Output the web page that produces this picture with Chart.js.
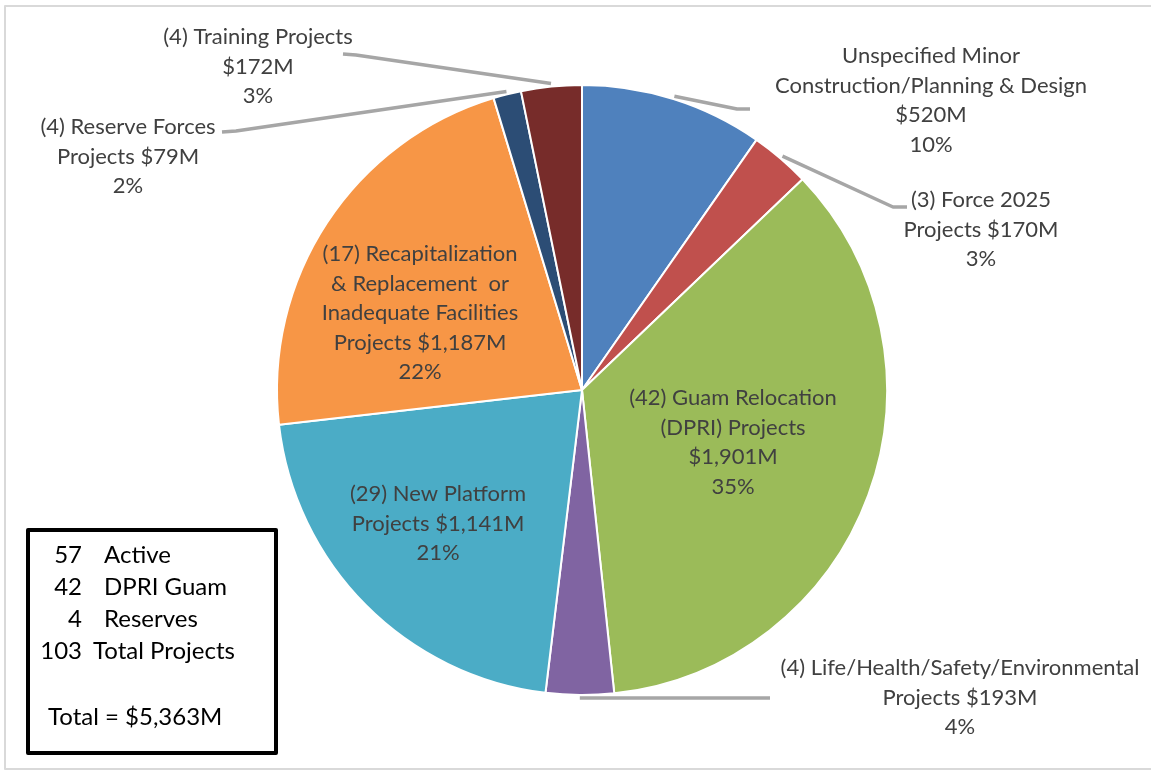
<!DOCTYPE html>
<html>
<head>
<meta charset="utf-8">
<script src="https://cdn.jsdelivr.net/npm/chart.js@4.4.1/dist/chart.umd.min.js"></script>
<style>
  html, body { margin: 0; padding: 0; background: #fff; }
  #wrap { width: 1151px; height: 772px; position: relative; }
</style>
</head>
<body>
<div id="wrap"><canvas id="myChart"></canvas></div>
<script>
// datos
const categorias = [
  "Unspecified Minor Construction/Planning & Design",
  "Force 2025",
  "Guam Relocation (DPRI)",
  "Life/Health/Safety/Environmental",
  "New Platform",
  "Recapitalization & Replacement or Inadequate Facilities",
  "Reserve Forces",
  "Training"
];
const montos = [520, 170, 1901, 193, 1141, 1187, 79, 172];
const porcentajes = ["10%", "3%", "35%", "4%", "21%", "22%", "2%", "3%"];
const colores = ["#4F81BD", "#C0504D", "#9BBB59", "#8064A2", "#4BACC6", "#F79646", "#2C4D75", "#772C2A"];

// textos de las etiquetas, una linea por elemento
const textosEtiquetas = [
  ["Unspecified Minor", "Construction/Planning & Design", "$520M", "10%"],
  ["(3) Force 2025", "Projects $170M", "3%"],
  ["(42) Guam Relocation", "(DPRI) Projects", "$1,901M", "35%"],
  ["(4) Life/Health/Safety/Environmental", "Projects $193M", "4%"],
  ["(29) New Platform", "Projects $1,141M", "21%"],
  ["(17) Recapitalization", "& Replacement  or", "Inadequate Facilities", "Projects $1,187M", "22%"],
  ["(4) Reserve Forces", "Projects $79M", "2%"],
  ["(4) Training Projects", "$172M", "3%"]
];

const resumenNumeros = ["57", "42", "4", "103"];
const resumenTextos = ["Active", "DPRI Guam", "Reserves", "Total Projects"];
const resumenTotal = "Total = $5,363M";

// posicion de cada etiqueta (centro x, y de la primera linea) y quiebre de la linea guia
const posEtiquetas = [
  { x: 931, y: 56, guia: [[737, 109], [750, 109]] },
  { x: 981, y: 200, guia: [[893, 207], [907, 207]] },
  { x: 733, y: 398, guia: null },
  { x: 960, y: 668, guia: [[770, 698]] },
  { x: 438, y: 494, guia: null },
  { x: 420, y: 254, guia: null },
  { x: 128, y: 127, guia: [[236, 131], [222, 132]] },
  { x: 258, y: 37, guia: [[356, 55], [343, 54]] }
];

const fuente = "22px Lato";
const altoLinea = 29.5;

const etiquetasPlugin = {
  id: "etiquetas",
  afterDatasetsDraw(chart) {
    const ctx = chart.ctx;
    const arcos = chart.getDatasetMeta(0).data;
    ctx.save();

    // lineas guia
    ctx.strokeStyle = "#A6A6A6";
    ctx.lineWidth = 3.5;
    ctx.lineJoin = "round";
    arcos.forEach((arco, i) => {
      const p = posEtiquetas[i];
      if (!p.guia) return;
      const medio = (arco.startAngle + arco.endAngle) / 2;
      const r = arco.outerRadius + 3;
      ctx.beginPath();
      ctx.moveTo(arco.x + r * Math.cos(medio), arco.y + r * Math.sin(medio));
      p.guia.forEach((pt) => ctx.lineTo(pt[0], pt[1]));
      ctx.stroke();
    });

    // textos
    ctx.font = fuente;
    ctx.fillStyle = "#404040";
    ctx.textAlign = "center";
    ctx.textBaseline = "middle";
    textosEtiquetas.forEach((lineas, i) => {
      const p = posEtiquetas[i];
      lineas.forEach((t, j) => ctx.fillText(t, p.x, p.y + j * altoLinea));
    });

    // cuadro resumen
    ctx.strokeStyle = "#000";
    ctx.lineWidth = 4;
    ctx.strokeRect(28, 530, 248, 223);
    ctx.fillStyle = "#000";
    ctx.font = "24px Lato";
    resumenNumeros.forEach((n, j) => {
      const y = 555 + j * 32;
      ctx.textAlign = "right";
      ctx.fillText(n, 82, y);
      ctx.textAlign = "left";
      ctx.fillText(resumenTextos[j], j === 3 ? 93 : 104, y);
    });
    ctx.textAlign = "left";
    ctx.fillText(resumenTotal, 48, 717);

    // marco exterior
    ctx.strokeStyle = "#D9D9D9";
    ctx.lineWidth = 2;
    ctx.strokeRect(5, 6, 1150, 763);
    ctx.restore();
  }
};

const ctx = document.getElementById("myChart").getContext("2d");
const myChart = new Chart(ctx, {
  type: "pie",
  data: {
    labels: categorias,
    datasets: [
      {
        data: montos,
        backgroundColor: colores,
        borderColor: "#FFFFFF",
        borderWidth: 2,
      },
    ],
  },
  options: {
    responsive: true,
    maintainAspectRatio: false,
    animation: false,
    layout: { padding: { top: 84, bottom: 76, left: 200, right: 187 } },
    plugins: {
      legend: { display: false },
      tooltip: { enabled: false },
    },
  },
  plugins: [etiquetasPlugin],
});
</script>
</body>
</html>
